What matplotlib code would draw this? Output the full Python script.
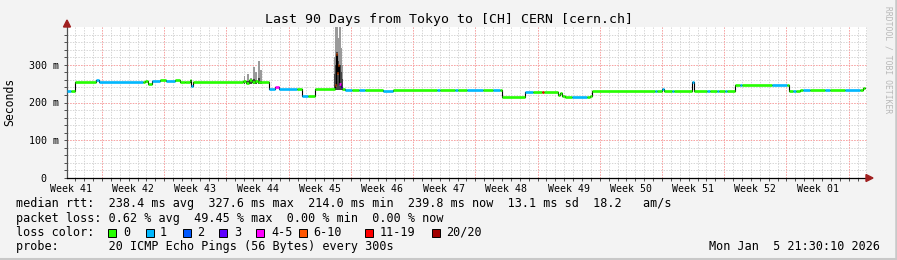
import matplotlib
matplotlib.use("Agg")
import matplotlib.pyplot as plt
from matplotlib.patches import Rectangle, Polygon
from matplotlib.ticker import FixedLocator

W, H = 897, 260
MONO = "DejaVu Sans Mono"

# median rtt as steps: start day (0 = left edge of the 90 day window), ms, lost pings of 20
step_day = [0.0, 0.45, 0.9, 3.26, 3.6, 8.55, 8.77, 9.11, 9.56, 10.46, 11.14, 12.15, 12.71,
            13.27, 13.84, 13.95, 14.17, 19.8, 20.14, 20.47, 20.81, 21.15, 21.49, 22.72, 23.4,
            23.85, 25.9, 26.44, 27.11, 27.9, 30.2, 30.31, 30.43, 30.54, 30.65, 30.77, 30.94,
            31.27, 32.06, 32.8, 33.52, 35.55, 36.67, 41.62, 41.96, 43.65, 43.99, 45.0, 46.8,
            47.92, 48.71, 48.94, 51.52, 52.42, 53.44, 53.66, 55.24, 55.46, 55.69, 56.02, 56.81,
            58.5, 58.84, 59.06, 66.15, 66.37, 66.94, 67.16, 68.06, 68.28, 70.31, 70.53, 71.99,
            72.34, 73.12, 73.35, 74.02, 74.25, 75.15, 75.71, 75.94, 79.31, 81.0, 81.22, 81.67,
            82.0, 82.46, 82.8, 83.59, 85.27, 85.84, 87.52, 89.21, 89.54]
step_ms = [230, 230, 253, 259, 253, 253, 258, 250, 257, 259, 257, 260, 255,
           253, 260, 243, 253, 258, 252, 259, 254, 258, 253, 236, 242,
           236, 236, 217, 217, 237, 246, 327.6, 278, 300, 250, 240, 237,
           233, 233, 233, 233, 230, 233, 233, 233, 233, 233, 233, 233,
           233, 233, 215, 228, 228, 228, 228, 220, 226, 217, 214, 214,
           214, 218, 231, 231, 231, 237, 231, 231, 231, 253, 231, 231,
           231, 231, 231, 231, 231, 247, 247, 247, 247, 247, 231, 231,
           231, 233, 233, 233, 233, 233, 233, 233, 239]
step_loss = [1, 0, 0, 1, 1, 0, 0, 0, 1, 0, 1, 0, 0,
             0, 0, 1, 0, 0, 0, 0, 0, 0, 0, 1, 4,
             1, 0, 1, 0, 0, 6, 8, 7, 6, 4, 3, 0,
             1, 0, 1, 0, 1, 0, 1, 0, 1, 0, 1, 0,
             1, 0, 0, 1, 0, 12, 0, 0, 0, 0, 0, 1,
             0, 0, 0, 1, 0, 1, 0, 1, 0, 1, 0, 1,
             0, 1, 0, 1, 0, 0, 1, 0, 1, 0, 0, 1,
             0, 0, 1, 0, 1, 0, 1, 0, 0]
data_end = 89.77

# smoke (spread of the 20 pings) where it is visible
smoke_day = [20.0, 20.36, 20.7, 21.04, 21.27, 21.6, 21.83,
             30.15, 30.26, 30.37, 30.49, 30.6, 30.71, 30.82, 30.94]
smoke_lo = [250, 250, 250, 250, 250, 250, 250,
            234, 234, 234, 234, 234, 234, 234, 234]
smoke_mid = [258, 258, 256, 262, 260, 265, 258,
             275, 300, 335, 310, 290, 300, 280, 262]
smoke_hi = [270, 275, 265, 295, 282, 310, 285,
            320, 400, 400, 370, 350, 400, 345, 300]

week_labels = ["Week 41", "Week 42", "Week 43", "Week 44", "Week 45", "Week 46", "Week 47",
               "Week 48", "Week 49", "Week 50", "Week 51", "Week 52", "Week 01"]

loss_names = ["0", "1", "2", "3", "4-5", "6-10", "11-19", "20/20"]
loss_upto = [0, 1, 2, 3, 5, 10, 19, 20]
loss_colors = ["#26ff00", "#00b8ff", "#0059ff", "#5e00ff", "#ff00ff", "#ff5500", "#ff0000", "#a10000"]


def loss_color(n):
    for lim, c in zip(loss_upto, loss_colors):
        if n <= lim:
            return c
    return loss_colors[-1]


def fx(px):
    return px / W


def fy(py):
    return 1 - py / H


fig = plt.figure(figsize=(W / 100, H / 100), dpi=100, facecolor="#f3f3f3")
ax = fig.add_axes([fx(67), fy(178), 800 / W, 151 / H])
ax.set_facecolor("white")
ax.set_xlim(0, 90)
ax.set_ylim(0, 400)

# grid
week_lines = [3.94 + 7 * i for i in range(13)]
day_lines = [0.94 + i for i in range(90)]
dots = (0, (1.4, 1.4))
for d in day_lines:
    ax.axvline(d, color="#d4d4d4", lw=0.7, ls=dots, zorder=0.5)
for v in range(20, 400, 20):
    ax.axhline(v, color="#d4d4d4", lw=0.7, ls=dots, zorder=0.5)
for d in week_lines:
    ax.axvline(d, color="#ffa0a0", lw=0.7, ls=dots, zorder=0.6)
for v in (100, 200, 300):
    ax.axhline(v, color="#ffa0a0", lw=0.7, ls=dots, zorder=0.6)

# smoke
lo_h = [m - l for m, l in zip(smoke_mid, smoke_lo)]
hi_h = [h - m for h, m in zip(smoke_hi, smoke_mid)]
ax.bar(smoke_day, hi_h, bottom=smoke_mid, width=0.14, color="#9a9a9a", lw=0, zorder=1)
ax.bar(smoke_day, lo_h, bottom=smoke_lo, width=0.14, color="#454545", lw=0, zorder=1.1)

# median: black step line plus loss-coloured segments
ends = step_day[1:] + [data_end]
ax.step(step_day + [data_end], step_ms + [step_ms[-1]], where="post", color="black", lw=0.8, zorder=2)
ax.hlines(step_ms, step_day, ends, colors=[loss_color(n) for n in step_loss], lw=1.9, zorder=3)

# axes look
for s in ("top", "right"):
    ax.spines[s].set_visible(False)
ax.spines["left"].set_color("#505050")
ax.spines["bottom"].set_color("black")
ax.spines["left"].set_linewidth(0.9)
ax.spines["bottom"].set_linewidth(0.9)

ax.set_yticks([0, 100, 200, 300])
ax.set_yticklabels(["0  ", "100 m", "200 m", "300 m"], fontfamily=MONO, fontsize=7.2)
ax.yaxis.set_minor_locator(FixedLocator(list(range(20, 400, 20))))
ax.tick_params(axis="y", which="major", length=2, width=0.7, color="#505050", pad=4)
ax.tick_params(axis="y", which="minor", length=2, width=0.7, color="#505050")

ax.set_xticks([w - 3.5 for w in week_lines])
ax.set_xticklabels(week_labels, fontfamily=MONO, fontsize=7.1)
ax.xaxis.set_minor_locator(FixedLocator(day_lines))
ax.tick_params(axis="x", which="major", length=0, pad=4)
ax.tick_params(axis="x", which="minor", length=2, width=0.7, color="#505050")

fig.text(fx(10), fy(102), "Seconds", rotation=90, ha="center", va="center", fontfamily=MONO, fontsize=8.3)

# arrows
arrow_c = "#a02020"
fig.patches.append(Polygon([(fx(63.5), fy(27)), (fx(70.5), fy(27)), (fx(67), fy(20))],
                           closed=True, color=arrow_c, transform=fig.transFigure))
fig.patches.append(Polygon([(fx(866), fy(174.5)), (fx(866), fy(181.5)), (fx(873), fy(178))],
                           closed=True, color=arrow_c, transform=fig.transFigure))

# title and watermark
fig.text(fx(448.5), fy(19), "Last 90 Days from Tokyo to [CH] CERN [cern.ch]",
         ha="center", va="center", fontfamily=MONO, fontsize=9.5)
fig.text(fx(888), fy(60), "RRDTOOL / TOBI OETIKER", rotation=270, ha="center", va="center",
         fontfamily=MONO, fontsize=5.8, color="#b8b8b8")

# legend
lg = dict(fontfamily=MONO, fontsize=8.5, va="center", ha="left")
fig.text(fx(16), fy(204),
         "median rtt:  238.4 ms avg  327.6 ms max  214.0 ms min  239.8 ms now  13.1 ms sd  18.2   am/s", **lg)
fig.text(fx(16), fy(218.3), "packet loss: 0.62 % avg  49.45 % max  0.00 % min  0.00 % now", **lg)
fig.text(fx(16), fy(232.3), "loss color:", **lg)
box_x = [108, 146, 182.5, 219, 256, 299, 365, 432]
label_x = [123, 160, 197, 234, 271, 313, 380, 446]
for bx, tx, name, c in zip(box_x, label_x, loss_names, loss_colors):
    fig.patches.append(Rectangle((fx(bx), fy(236.5)), 8 / W, 8 / H, facecolor=c, edgecolor="black",
                                 lw=0.7, transform=fig.transFigure))
    fig.text(fx(tx), fy(232.3), name, **lg)
fig.text(fx(16), fy(246.3), "probe:       20 ICMP Echo Pings (56 Bytes) every 300s", **lg)
fig.text(fx(880), fy(246.3), "Mon Jan  5 21:30:10 2026", fontfamily=MONO, fontsize=8.5,
         va="center", ha="right")

# frame
fig.add_artist(plt.Line2D([fx(0), fx(W)], [fy(258.5), fy(258.5)], color="#c8c8c8", lw=2.2,
                          transform=fig.transFigure))
fig.add_artist(plt.Line2D([fx(895.8), fx(895.8)], [fy(0), fy(H)], color="#c8c8c8", lw=1.8,
                          transform=fig.transFigure))

fig.savefig("out.png", dpi=100, facecolor=fig.get_facecolor())
